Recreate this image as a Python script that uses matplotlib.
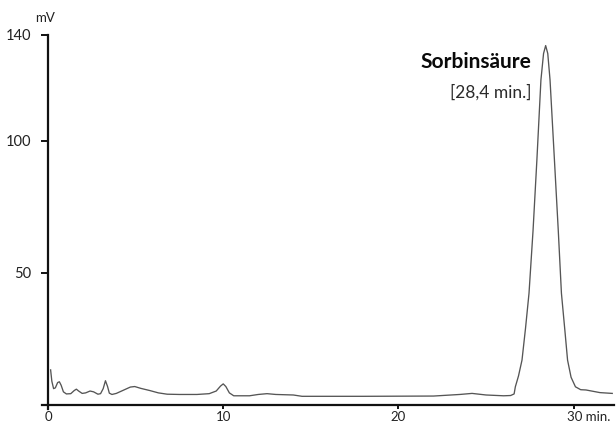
import matplotlib
matplotlib.use("Agg")
import matplotlib.pyplot as plt
import matplotlib.transforms as mtransforms

# Chromatogram trace: retention time (min) and detector signal (mV)
time_min = [
    0.15, 0.22, 0.32, 0.42, 0.55, 0.65, 0.75, 0.88, 1.05, 1.30, 1.50, 1.62,
    1.75, 1.95, 2.15, 2.40, 2.60, 2.85, 3.00, 3.15, 3.28, 3.40, 3.50, 3.65,
    3.90, 4.30, 4.70, 4.95, 5.30, 5.80, 6.30, 6.80, 7.50, 8.50, 9.20, 9.60,
    9.85, 10.00, 10.15, 10.35, 10.60, 11.50, 12.00, 12.50, 13.00, 14.00,
    14.50, 18.00, 22.00, 23.50, 24.20, 25.00, 26.00, 26.40, 26.60, 26.67,
    26.85, 27.05, 27.25, 27.45, 27.68, 27.90, 28.13, 28.28, 28.40, 28.52,
    28.65, 28.90, 29.12, 29.30, 29.50, 29.65, 29.85, 30.10, 30.40, 30.70,
    31.50, 32.20,
]
signal_mv = [
    13.3, 9.0, 6.2, 6.5, 8.5, 8.8, 7.5, 5.0, 4.2, 4.3, 5.5, 6.0,
    5.3, 4.4, 4.6, 5.3, 5.0, 4.1, 4.3, 6.2, 9.2, 7.0, 4.5, 4.0,
    4.4, 5.6, 6.8, 7.0, 6.3, 5.5, 4.6, 4.1, 4.0, 4.0, 4.3, 5.3,
    7.2, 8.0, 7.0, 4.6, 3.5, 3.5, 4.0, 4.3, 4.0, 3.8,
    3.3, 3.3, 3.4, 4.0, 4.4, 3.8, 3.5, 3.6, 4.2, 6.9,
    11.0, 17.0, 29.0, 42.3, 66.0, 92.8, 123.0, 133.0, 136.0, 133.0,
    123.0, 92.8, 66.0, 42.3, 28.0, 17.0, 10.5, 6.9, 5.8, 5.7,
    4.7, 4.4,
]

x_ticks = [0, 10, 20, 30]
x_tick_labels = ["0", "10", "20", "30 min."]
y_ticks = [50, 100, 140]
y_tick_labels = ["50", "100", "140"]

peak_time = 28.4
peak_height = 136.0
peak_name = "Sorbinsäure"
peak_time_label = "[28,4 min.]"
y_unit = "mV"

font = ["Lato", "DejaVu Sans"]
ink = "#222222"

fig = plt.figure(figsize=(6.16, 4.23), dpi=100)
W, H = 616, 423
left, right, bottom, top = 41.5, 614, 14, 388
ax = fig.add_axes([left / W, bottom / H, (right - left) / W, (top - bottom) / H])

ax.plot(time_min, signal_mv, color="#555555", lw=0.95, solid_joinstyle="round")

ax.set_xlim(-0.37, 32.3)
ax.set_ylim(-1.5, 140)

for side in ("top", "right"):
    ax.spines[side].set_visible(False)
ax.spines["left"].set_position(("data", 0))
ax.spines["bottom"].set_position(("data", 0))
for side in ("left", "bottom"):
    ax.spines[side].set_linewidth(1.6)
    ax.spines[side].set_color("#111111")

ax.set_xticks(x_ticks)
ax.set_xticklabels(x_tick_labels)
ax.set_yticks(y_ticks)
ax.set_yticklabels(y_tick_labels)
ax.tick_params(axis="y", direction="out", length=5, width=1.4, pad=7,
               labelsize=10.5, colors="#111111", labelcolor=ink)
ax.tick_params(axis="x", direction="out", length=3, width=1.4, pad=1,
               labelsize=9.5, colors="#111111", labelcolor=ink)
for lbl in ax.get_xticklabels() + ax.get_yticklabels():
    lbl.set_family(font)

# The last x label carries the unit: keep "30" centred on its tick
last = ax.get_xticklabels()[-1]
last.set_horizontalalignment("left")
last.set_transform(last.get_transform() +
                   mtransforms.ScaledTranslation(-7 / 100, 0, fig.dpi_scale_trans))

# Unit caption on the y axis
ax.annotate(y_unit, xy=(0, 140), xycoords="data",
            xytext=(-2, 8), textcoords="offset points", ha="center",
            va="bottom", fontsize=9.5, color=ink, family=font,
            annotation_clip=False)

# Peak annotation
ax.annotate(peak_name, xy=(peak_time, peak_height), xycoords="data",
            xytext=(-10.5, -12), textcoords="offset points", ha="right",
            va="center", fontsize=15, fontweight="bold", color="#0a0a0a",
            family=font)
ax.annotate(peak_time_label, xy=(peak_time, peak_height), xycoords="data",
            xytext=(-10.5, -33.5), textcoords="offset points", ha="right",
            va="center", fontsize=12.5, color="#2a2a2a", family=font)

fig.savefig("out.png", dpi=100)
